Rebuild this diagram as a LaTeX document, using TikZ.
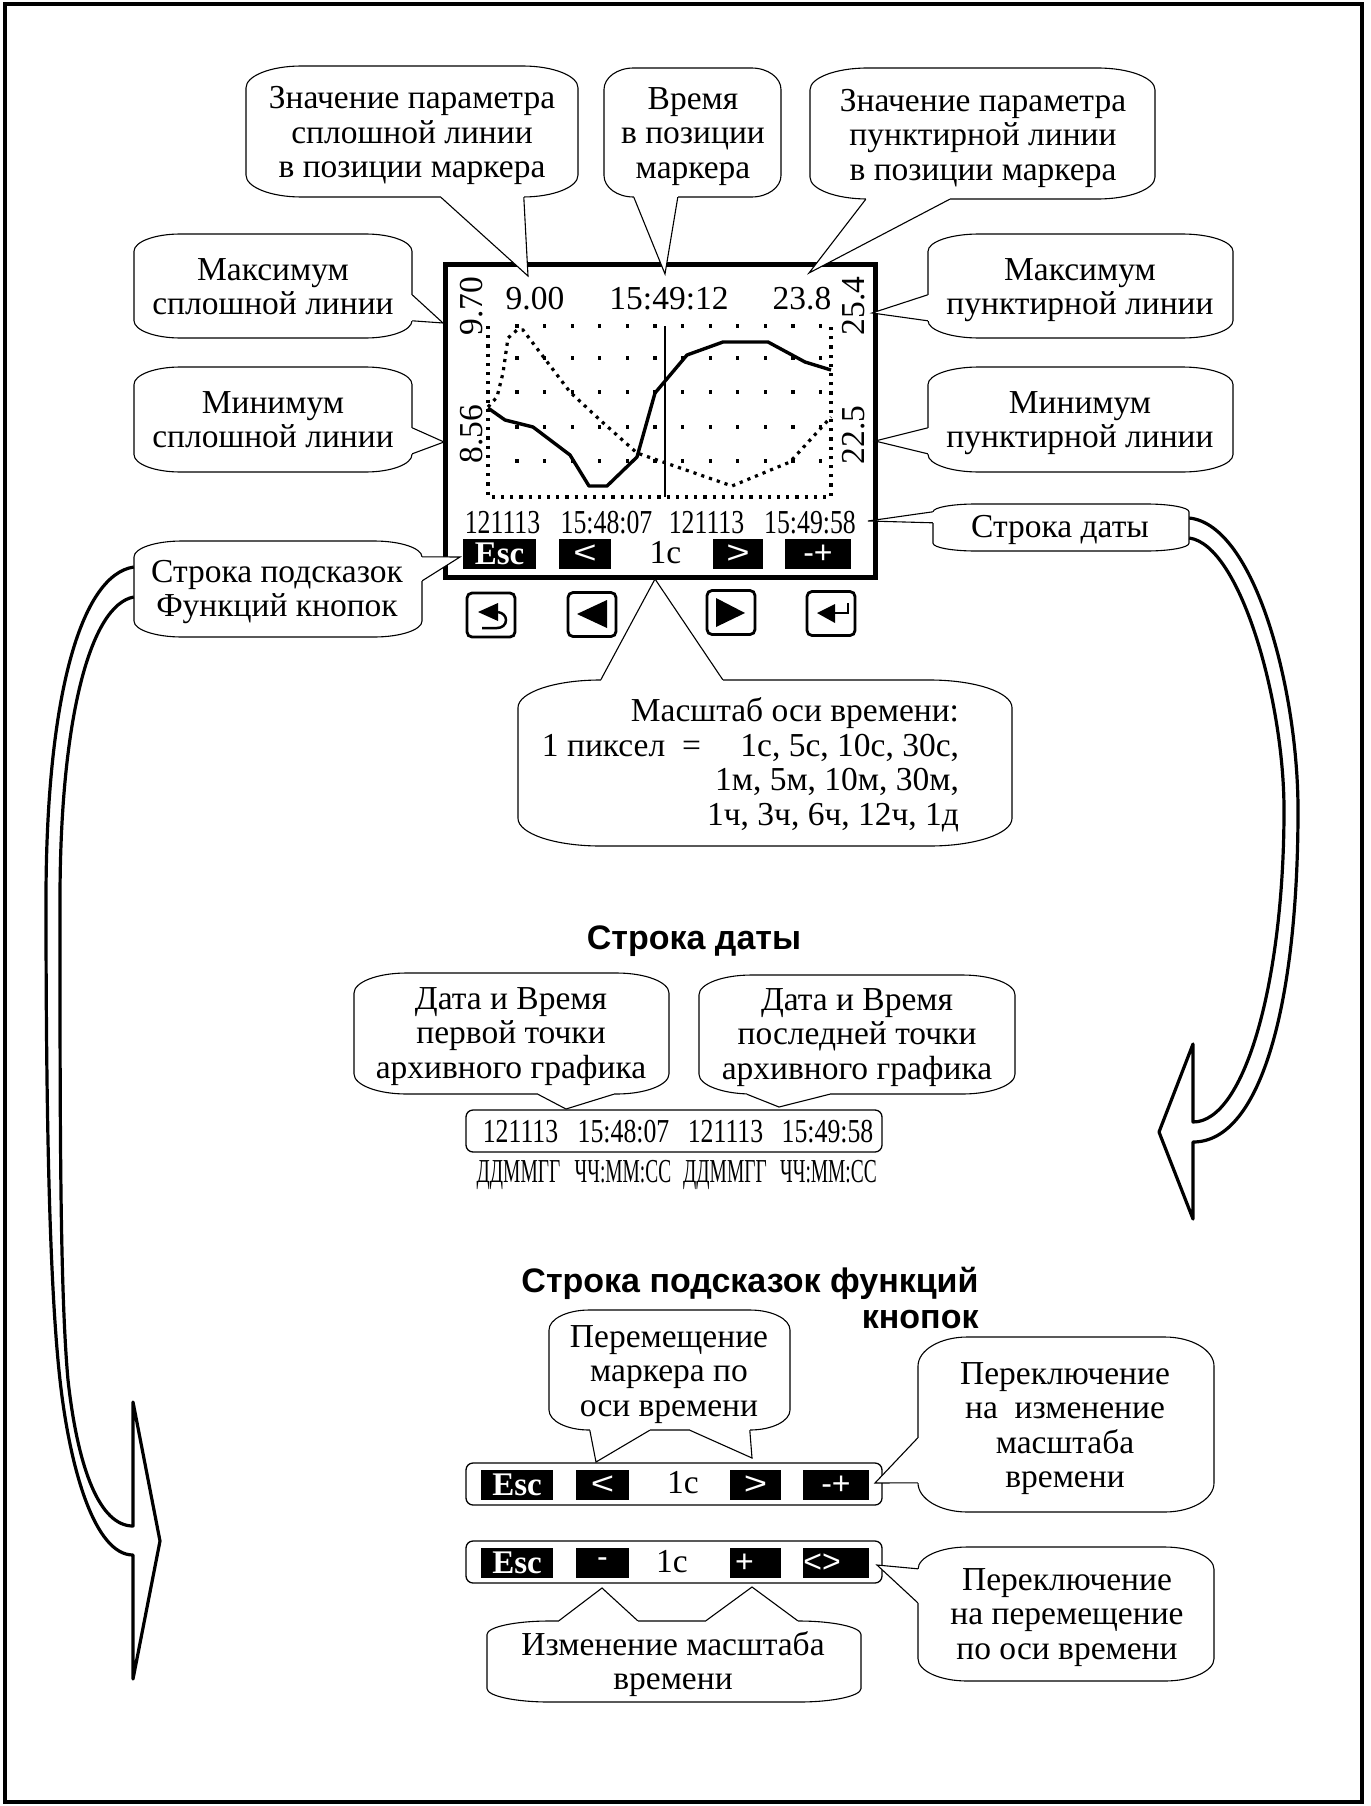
\documentclass[tikz,border=0pt]{standalone}
\usepackage{fontspec}
\setmainfont{Liberation Serif}
\setsansfont{Liberation Sans}
\newfontface\datefont[FakeStretch=.77]{Liberation Serif}
\newfontface\maskfont[FakeStretch=.58]{Liberation Serif}
\newfontface\keyfont[FakeStretch=1.25]{Liberation Sans}
\usetikzlibrary{arrows, arrows.meta}
\usetikzlibrary{calc}

\tikzset{
  x=1pt, y=-1pt,
  bubbleline/.style={draw, line width=1.1pt, fill=white},
  bubblebox/.style={inner sep=0pt},
  bubbletext/.style={inner sep=0pt, align=center, font=\fontsize{33.5}{34.5}\selectfont},
  tail/.style={draw, line width=1.1pt, fill=white, line join=miter},
  tailgap/.style={draw=white, line width=2pt},
  screentext/.style={inner sep=0pt, anchor=base, font=\fontsize{33.5}{34.5}\selectfont},
  datetext/.style={inner sep=0pt, anchor=base, font=\fontsize{33.5}{34.5}\datefont},
  masktext/.style={inner sep=0pt, anchor=base, font=\fontsize{33.5}{34.5}\maskfont},
  softkey/.style={fill=black, text=white, inner sep=0pt, minimum height=30, font=\fontsize{32}{34}\sffamily},
  arrowkey/.style={softkey, font=\fontsize{32}{34}\keyfont},
  esckey/.style={softkey, font=\fontsize{33}{34}\bfseries},
  hardkey/.style={draw, line width=2.8pt, rounded corners=5pt, inner sep=0pt, minimum width=48, minimum height=44},
  stripbox/.style={draw, line width=1.3pt, rounded corners=7pt, inner sep=0pt, minimum width=416, minimum height=42},
  griddots/.style={line width=3.2pt, dash pattern=on 3.2pt off 6pt},
  plotdots/.style={line width=3.2pt, dash pattern=on 3.2pt off 5pt},
  heading/.style={inner sep=0pt, font=\fontsize{34}{36}\sffamily\bfseries},
  bigarrow/.style={draw, line width=3.2pt, line join=round},
}

\newcommand{\bubble}[9][]{%
  \pgfmathsetmacro{\bubrx}{(#5-#3)/6}%
  \pgfmathsetmacro{\bubry}{(#6-#4)/6}%
  \draw[bubbleline] (#3,#4+\bubry)
    arc[start angle=180, end angle=270, x radius=\bubrx, y radius=\bubry] -- (#5-\bubrx,#4)
    arc[start angle=270, end angle=360, x radius=\bubrx, y radius=\bubry] -- (#5,#6-\bubry)
    arc[start angle=0, end angle=90, x radius=\bubrx, y radius=\bubry] -- (#3+\bubrx,#6)
    arc[start angle=90, end angle=180, x radius=\bubrx, y radius=\bubry] -- cycle;
  \node[bubblebox, minimum width=#5-#3, minimum height=#6-#4] (#2) at ({(#3+#5)/2},{(#4+#6)/2}) {};
  \node[bubbletext, #1] (#2text) at (#7,#8) {\strut #9\strut};
}
\newcommand{\calltail}[3]{%
  \draw[tailgap] #1 -- #3;
  \draw[tail] #1 -- #2 -- #3;
}

\begin{document}
\begin{tikzpicture}
  \useasboundingbox (0,0) rectangle (1370,1806);
  \draw[line width=4.5pt] (5,4) rectangle (1362,1802);

  % screen
  \draw[line width=5pt] (445,264) rectangle (875,577);
  \foreach \k in {0,...,11}
    \foreach \row in {326,358,392,427,461}
      \fill ({517+27.6*\k-1.6},\row-1.6) rectangle +(3.2,3.2);
  \draw[griddots] (488,326) -- (488,497) -- (831,497) -- (831,326);
  \draw[plotdots] (488,407) -- (497,397) -- (503,373) -- (508,338) -- (517,330) -- (523,330) -- (570,392) -- (600,420) -- (637,453) -- (732,486) -- (790,462) -- (831,417);
  \draw[line width=3.4pt, line join=round] (488,408) -- (505,420) -- (533,427) -- (570,455) -- (589,486) -- (607,486) -- (637,457) -- (655,393) -- (687,355) -- (723,342) -- (768,342) -- (805,362) -- (831,370);
  \draw[line width=1.6pt] (665,326) -- (665,497);

  \node[screentext] (valsolid) at (535,309) {9.00};
  \node[screentext] (valtime) at (669,309) {15:49:12};
  \node[screentext] (valdash) at (802,309) {23.8};
  \node[screentext, rotate=90] (maxsolid) at (482,306) {9.70};
  \node[screentext, rotate=90] (minsolid) at (482,434) {8.56};
  \node[screentext, rotate=90] (maxdash) at (864,306) {25.4};
  \node[screentext, rotate=90] (mindash) at (864,435) {22.5};

  \node[datetext] (date1) at (502.5,533) {121113};
  \node[datetext] (time1) at (606.5,533) {15:48:07};
  \node[datetext] (date2) at (706.5,533) {121113};
  \node[datetext] (time2) at (810,533) {15:49:58};

  \node[esckey, minimum width=73] (esc) at (499.5,554) {Esc};
  \node[arrowkey, minimum width=52] (keyleft) at (585,554) {<};
  \node[screentext] (scale) at (665.5,563) {1с};
  \node[arrowkey, minimum width=50] (keyright) at (738,554) {>};
  \node[softkey, minimum width=66] (keymode) at (818,554) {-+};

  % hard keys
  \node[hardkey] (hwback) at (491,615) {};
  \node[hardkey] (hwleft) at (592,614.5) {};
  \node[hardkey] (hwright) at (731,612.5) {};
  \node[hardkey] (hwenter) at (831,613.5) {};
  \fill (478,612) -- (498,603) -- (498,621) -- cycle;
  \draw[line width=2.5pt] (498,612) .. controls (503,613) and (506,616) .. (506,620) .. controls (506,625) and (502,628) .. (497,628) -- (482,628);
  \fill (577,614) -- (607,600) -- (607,628) -- cycle;
  \fill (745,613) -- (716,598) -- (716,627) -- cycle;
  \fill (817,613) -- (835,604) -- (835,623) -- cycle;
  \draw[line width=2.5pt] (835,613) -- (848,613) -- (848,603);

  % date strip
  \node[stripbox] (datestrip) at (674,1131) {};
  \node[datetext] (stripdate1) at (520.5,1142) {121113};
  \node[datetext] (striptime1) at (623.5,1142) {15:48:07};
  \node[datetext] (stripdate2) at (725.5,1142) {121113};
  \node[datetext] (striptime2) at (827.5,1142) {15:49:58};
  \node[masktext] (mask1) at (518.5,1182) {ДДММГГ};
  \node[masktext] (mask2) at (623,1182) {ЧЧ:ММ:СС};
  \node[masktext] (mask3) at (725,1182) {ДДММГГ};
  \node[masktext] (mask4) at (828.5,1182) {ЧЧ:ММ:СС};

  % hint strips
  \node[stripbox] (hintstrip) at (674,1484) {};
  \node[esckey, minimum width=72] (esca) at (517,1485) {Esc};
  \node[arrowkey, minimum width=53] (lefta) at (602.5,1485) {<};
  \node[screentext] (scalea) at (683,1493) {1с};
  \node[arrowkey, minimum width=51] (righta) at (755.5,1485) {>};
  \node[softkey, minimum width=66] (modea) at (836,1485) {-+};

  \node[stripbox] (scalestrip) at (674,1562) {};
  \node[esckey, minimum width=72] (escb) at (517,1563) {Esc};
  \node[softkey, minimum width=53] (minusb) at (602.5,1563) {-};
  \node[screentext] (scaleb) at (672,1572) {1с};
  \node[softkey, minimum width=51] (plusb) at (755.5,1563) {+\kern22pt};
  \node[softkey, minimum width=66] (modeb) at (836,1563) {<>\kern28pt};

  % headings
  \node[heading, anchor=base] (headdate) at (694,949) {Строка даты};
  \node[heading, align=right] (headhint) at (750,1302.8) {\strut Строка подсказок функций\\кнопок\strut};

  % big arrows
  \bubble{dateline}{933}{504}{1189}{551}{1060}{531}{Строка даты}
  \bubble{hints}{134}{541}{422}{637}{277}{592.6}{Строка подсказок\\Функций кнопок}

  \coordinate (rtop) at (1193,1044);
  \coordinate (rin) at (1193,1122);
  \coordinate (rtip) at (1159,1132);
  \coordinate (rout) at (1193,1142);
  \coordinate (rbot) at (1193,1219);
  \draw[bigarrow] ([yshift=9.5]dateline.east) .. controls (1255,525) and (1298,690) .. (1298,810) .. controls (1298,1000) and (1262,1142) .. (rout) -- (rbot) -- (rtip) -- (rtop) -- (rin) .. controls (1245,1122) and (1284,980) .. (1284,810) .. controls (1284,700) and (1240,545) .. ([yshift=-10.5]dateline.east);

  \coordinate (ltop) at (133,1402);
  \coordinate (lin) at (133,1526);
  \coordinate (ltip) at (160,1541);
  \coordinate (lout) at (133,1555);
  \coordinate (lbot) at (133,1679);
  \draw[bigarrow] ([yshift=22]hints.west) .. controls (80,575) and (46,700) .. (46,900) .. controls (46,1130) and (50,1290) .. (60,1380) .. controls (70,1470) and (95,1555) .. (lout) -- (lbot) -- (ltip) -- (ltop) -- (lin) .. controls (100,1526) and (78,1470) .. (68,1380) .. controls (60,1290) and (60,1130) .. (60,900) .. controls (60,720) and (90,605) .. ([yshift=-8]hints.west);

  % callouts
  \bubble{solidval}{246}{66}{578}{197}{412}{136.6}{Значение параметра\\сплошной линии\\в позиции маркера}
  \coordinate (tipsolidval) at (528,276);
  \calltail{([xshift=195]solidval.south west)}{(tipsolidval)}{([xshift=278]solidval.south west)}

  \bubble{timeval}{604}{68}{781}{197}{693}{137}{Время\\в позиции\\маркера}
  \coordinate (tiptimeval) at (665,274);
  \calltail{([xshift=30]timeval.south west)}{(tiptimeval)}{([xshift=74]timeval.south west)}

  \bubble{dashval}{810}{68}{1155}{199}{983}{139}{Значение параметра\\пунктирной линии\\в позиции маркера}
  \coordinate (tipdashval) at (809,273);
  \calltail{([xshift=56]dashval.south west)}{(tipdashval)}{([xshift=140]dashval.south west)}

  \bubble{solidmax}{134}{234}{412}{338}{273}{290.6}{Максимум\\сплошной линии}
  \coordinate (tipsolidmax) at (443,323);
  \calltail{([yshift=-61]solidmax.north east)}{(tipsolidmax)}{([yshift=-87]solidmax.north east)}

  \bubble{solidmin}{134}{367}{412}{472}{273}{423.6}{Минимум\\сплошной линии}
  \coordinate (tipsolidmin) at (444,442);
  \calltail{([yshift=-61]solidmin.north east)}{(tipsolidmin)}{([yshift=-87]solidmin.north east)}

  \bubble{dashmax}{928}{234}{1233}{338}{1080}{290.6}{Максимум\\пунктирной линии}
  \coordinate (tipdashmax) at (872,313);
  \calltail{([yshift=-61]dashmax.north west)}{(tipdashmax)}{([yshift=-87]dashmax.north west)}

  \bubble{dashmin}{928}{367}{1233}{472}{1080}{423.6}{Минимум\\пунктирной линии}
  \coordinate (tipdashmin) at (875,441);
  \calltail{([yshift=-61]dashmin.north west)}{(tipdashmin)}{([yshift=-87]dashmin.north west)}

  \coordinate (tipdateline) at (868,521);
  \calltail{([yshift=-8]dateline.north west)}{(tipdateline)}{([yshift=-19]dateline.north west)}

  \coordinate (tiphints) at (460,557);
  \calltail{([yshift=-16]hints.north east)}{(tiphints)}{([yshift=-40]hints.north east)}

  \bubble[align=right]{timescale}{518}{680}{1012}{846}{750.5}{766.6}{Масштаб оси времени:\\1 пиксел\ \ =\ \ \ \ \kern6pt 1с, 5с, 10с, 30с,\\1м, 5м, 10м, 30м,\\1ч, 3ч, 6ч, 12ч, 1д}
  \coordinate (tiptimescale) at (655,579);
  \calltail{([xshift=83]timescale.north west)}{(tiptimescale)}{([xshift=205]timescale.north west)}

  \bubble{firstpoint}{354}{973}{669}{1094}{511}{1037}{Дата и Время\\первой точки\\архивного графика}
  \coordinate (tipfirstpoint) at (566,1109);
  \calltail{([xshift=184]firstpoint.south west)}{(tipfirstpoint)}{([xshift=260]firstpoint.south west)}

  \bubble{lastpoint}{699}{975}{1015}{1094}{857}{1038}{Дата и Время\\последней точки\\архивного графика}
  \coordinate (tiplastpoint) at (779,1107);
  \calltail{([xshift=48]lastpoint.south west)}{(tiplastpoint)}{([xshift=131]lastpoint.south west)}

  \bubble{movemark}{549}{1310}{790}{1430}{669}{1374.6}{Перемещение\\маркера по\\оси времени}
  \coordinate (tipmoveleft) at (596,1462);
  \coordinate (tipmoveright) at (752,1458);
  \calltail{([xshift=41]movemark.south west)}{(tipmoveleft)}{([xshift=101]movemark.south west)}
  \calltail{([xshift=141]movemark.south west)}{(tipmoveright)}{([xshift=201]movemark.south west)}

  \bubble{toscale}{918}{1337}{1214}{1512}{1065}{1429}{Переключение\\на\ \ изменение\\масштаба\\времени}
  \coordinate (tiptoscale) at (875,1483);
  \calltail{([yshift=-101]toscale.north west)}{(tiptoscale)}{([yshift=-146]toscale.north west)}

  \bubble{tomove}{918}{1547}{1214}{1681}{1067}{1617.6}{Переключение\\на перемещение\\по оси времени}
  \coordinate (tiptomove) at (877,1565);
  \calltail{([yshift=-22]tomove.north west)}{(tiptomove)}{([yshift=-56]tomove.north west)}

  \bubble{changescale}{487}{1621}{861}{1702}{673}{1665.6}{Изменение масштаба\\времени}
  \coordinate (tipminus) at (602,1588);
  \coordinate (tipplus) at (752,1587);
  \calltail{([xshift=72]changescale.north west)}{(tipminus)}{([xshift=151]changescale.north west)}
  \calltail{([xshift=219]changescale.north west)}{(tipplus)}{([xshift=311]changescale.north west)}
\end{tikzpicture}
\end{document}
